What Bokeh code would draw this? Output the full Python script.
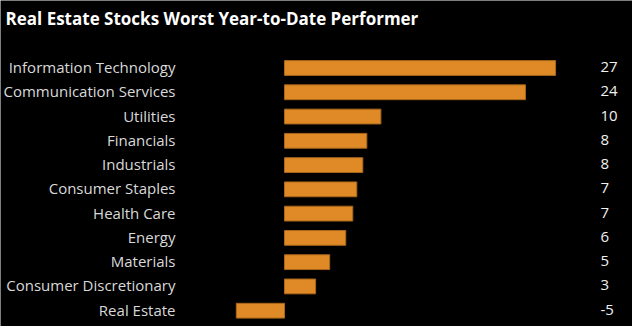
from bokeh.plotting import figure
from bokeh.models import Range1d, ColumnDataSource, Label
from bokeh.embed import file_html
from bokeh.resources import INLINE
from bokeh.core.properties import value

sectors = ["Information Technology", "Communication Services", "Utilities", "Financials",
           "Industrials", "Consumer Staples", "Health Care", "Energy", "Materials",
           "Consumer Discretionary", "Real Estate"]
returns = [27.0, 24.0, 9.6, 8.2, 7.8, 7.2, 6.8, 6.1, 4.5, 3.1, -4.8]
value_labels = ["27", "24", "10", "8", "8", "7", "7", "6", "5", "3", "-5"]

W, H = 632, 326
x0_px, px_per_unit = 284.0, 10.04
row0_px, row_step = 67.5, 24.27

idx = list(range(len(sectors)))
src = ColumnDataSource(dict(y=idx, v=returns, name=sectors, lab=value_labels,
                            lx=[(175 - x0_px) / px_per_unit] * len(idx),
                            vx=[(600 - x0_px) / px_per_unit] * len(idx)))

p = figure(width=W, height=H, output_backend="svg", toolbar_location=None,
           x_range=Range1d(-x0_px / px_per_unit, (W - x0_px) / px_per_unit),
           y_range=Range1d((H - row0_px) / row_step, -row0_px / row_step),
           min_border=0, background_fill_color="black", border_fill_color="black",
           outline_line_color=None)
p.xaxis.visible = False
p.yaxis.visible = False
p.xgrid.visible = False
p.ygrid.visible = False

p.hbar(y="y", left=0, right="v", height=14.8 / row_step, source=src,
       fill_color="#df8a27", line_color="#a9661c", line_width=1)

p.text(x="lx", y="y", text="name", source=src, text_align="right", text_baseline="middle",
       text_color="#d9d9d9", text_font=value("Open Sans"), text_font_size="15px",
       y_offset=-1)
p.text(x="vx", y="y", text="lab", source=src, text_align="left", text_baseline="middle",
       text_color="#f0f0f0", text_font=value("Open Sans"), text_font_size="15px",
       y_offset=-1)

title = Label(x=5, y=H - 18, x_units="screen", y_units="screen",
              text="Real Estate Stocks Worst Year-to-Date Performer",
              text_color="white", text_font="Open Sans", text_font_style="bold",
              text_font_size="17px", text_baseline="alphabetic")
p.add_layout(title)

open("out.html", "w").write(file_html(p, INLINE))
